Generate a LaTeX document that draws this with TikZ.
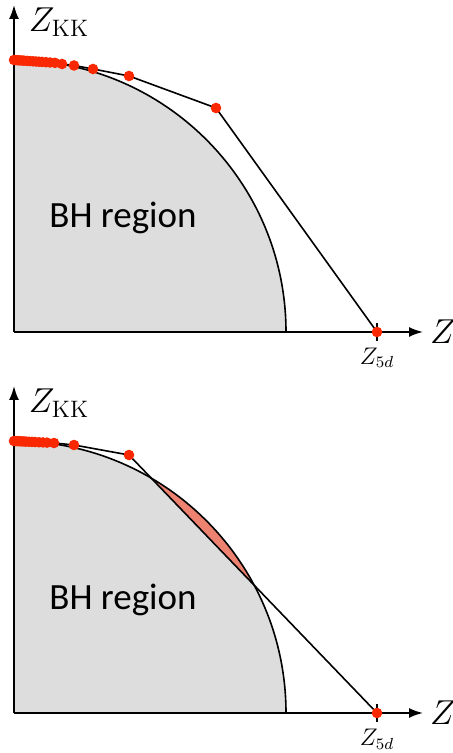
\documentclass[tikz,border=0pt]{standalone}
\usepackage{amsmath}
\usepackage{fontspec}
\newfontfamily\regionfont{Carlito}
\usetikzlibrary{arrows.meta}

\definecolor{dotred}{RGB}{250,40,0}
\definecolor{bhgray}{RGB}{221,221,221}
\definecolor{gapred}{RGB}{238,130,112}

\begin{document}
\begin{tikzpicture}[x=0.5pt, y=0.5pt, >={Latex[length=7pt,width=5pt]},
  axisline/.style={->, line width=0.9pt},
  hullline/.style={line width=0.8pt},
  hullpt/.style={fill=dotred},
  bhtext/.style={font=\regionfont\fontsize{18.5}{22}\selectfont},
  zlabel/.style={font=\fontsize{17}{20}\selectfont},
  zfive/.style={font=\fontsize{12}{14}\selectfont}]

\useasboundingbox (0,0) rectangle (452,753);

% upper plot: BH region and the hull of the points
\begin{scope}[shift={(14,421)}]
\coordinate (oa) at (0,0);
\coordinate (xa) at (409,0);
\coordinate (ya) at (0,327);
\fill[bhgray] (oa) -- (272,0) arc (0:90:272) -- cycle;
\draw[hullline] (272,0) arc (0:90:272);
\node[bhtext] (bha) at (109,114) {BH region};

% hull points
\coordinate (a0) at (0,272);
\coordinate (a1) at (48,268);
\coordinate (a2) at (60,266.5);
\coordinate (a3) at (79,263);
\coordinate (a4) at (115,256);
\coordinate (a5) at (202,224);
\coordinate (a6) at (363,0);
\draw[hullline] (a0) -- (a1) -- (a2) -- (a3) -- (a4) -- (a5) -- (a6);
\draw[hullline] (363,-9) -- (363,9);

% axes
\draw[axisline] (oa) -- (xa);
\draw[axisline] (oa) -- (ya);
\node[zlabel] (za) at (429,0) {$Z$};
\node[zlabel] (zkka) at (45,310) {$Z_{\mathrm{KK}}$};
\node[zfive] (z5a) at (363,-26) {$Z_{5d}$};

\foreach \x in {0,2,4,6,8,10,13,16,19,22,25,28,32,36,41}
  \fill[hullpt] (\x,{272-0.07*\x}) circle (5.3);
\foreach \p in {a1,a2,a3,a4,a5,a6}
  \fill[hullpt] (\p) circle (5.3);
\end{scope}

% lower plot: the hull cuts into the BH region
\begin{scope}[shift={(14,40)}]
\coordinate (ob) at (0,0);
\coordinate (xb) at (409,0);
\coordinate (yb) at (0,327);
\fill[bhgray] (ob) -- (272,0) arc (0:90:272) -- cycle;
\fill[gapred] (59.68:272) arc (59.68:28.05:272) -- cycle;
\draw[hullline] (272,0) arc (0:90:272);
\node[bhtext] (bhb) at (109,113) {BH region};

% hull points
\coordinate (b0) at (0,272);
\coordinate (b1) at (40,270);
\coordinate (b2) at (60,268);
\coordinate (b3) at (115,258);
\coordinate (b4) at (363,0);
\draw[hullline] (b0) -- (b1) -- (b2) -- (b3) -- (b4);
\draw[hullline] (363,-9) -- (363,9);

% axes
\draw[axisline] (ob) -- (xb);
\draw[axisline] (ob) -- (yb);
\node[zlabel] (zb) at (429,0) {$Z$};
\node[zlabel] (zkkb) at (45,310) {$Z_{\mathrm{KK}}$};
\node[zfive] (z5b) at (363,-26) {$Z_{5d}$};

\foreach \x in {0,2,4,6,8,10,12,15,18,21,25,29,33}
  \fill[hullpt] (\x,{272-0.05*\x}) circle (5.3);
\foreach \p in {b1,b2,b3,b4}
  \fill[hullpt] (\p) circle (5.3);
\end{scope}

\end{tikzpicture}
\end{document}
